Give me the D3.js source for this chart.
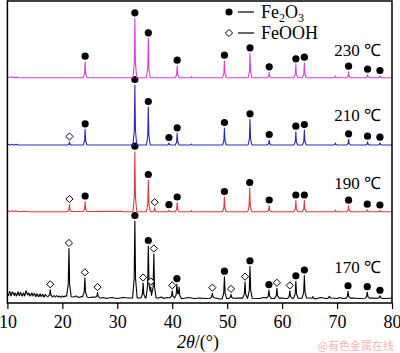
<!DOCTYPE html>
<html>
<head>
<meta charset="utf-8">
<script src="https://cdn.jsdelivr.net/npm/d3@7"></script>
<style>
  body { margin: 0; background: #fff; }
  svg { display: block; font-family: "Liberation Serif", "Times New Roman", serif; }
</style>
</head>
<body>
<div id="xrd"></div>
<script>
// Series names (bottom to top)
var temps = ["170 ℃", "190 ℃", "210 ℃", "230 ℃"];
var xTicks = [10, 20, 30, 40, 50, 60, 70, 80];
var phases = ["Fe2O3", "FeOOH"];

// peaks: [2theta, height above background, phase mark: H = Fe2O3, G = FeOOH]
var peaks170 = [
  [17.8, 7, "G"], [21.2, 48, "G"], [24.1, 19, "G"], [26.4, 5, "G"],
  [33.2, 77, "H"], [34.7, 15, "G"], [35.65, 52, "H"], [36.1, 11, "G"],
  [36.65, 44, "G"], [40.0, 7, "G"], [40.85, 14, "H"], [41.25, 11, ""],
  [47.3, 5, "G"], [49.5, 22, "H"], [50.7, 4, "G"], [53.25, 16, "G"],
  [54.15, 32, "H"], [57.6, 8, "H"], [59.05, 10, "G"], [61.4, 7.5, "G"],
  [62.5, 17, "H"], [64.05, 22.5, "H"], [65.6, 2, ""], [68.6, 2, ""],
  [72.0, 7, "H"], [75.5, 6, "H"], [77.8, 2.5, "H"]
];
var peaks190 = [
  [21.3, 7, "G"], [24.15, 10, "H"], [33.2, 60, "H"], [35.65, 31.7, "H"],
  [36.8, 4, "G"], [39.4, 1.5, "H"], [40.9, 9.2, "H"], [43.5, 1, ""],
  [49.5, 14.7, "H"], [54.1, 23.7, "H"], [57.65, 6.2, "H"], [62.5, 11.2, "H"],
  [64.05, 11.2, "H"], [69.7, 1.5, ""], [72.1, 6, "H"], [75.5, 2, "H"],
  [77.8, 1.2, "H"]
];
var peaks210 = [
  [21.3, 3, "G"], [24.15, 15.7, "H"], [33.2, 60, "H"], [35.65, 38, "H"],
  [39.4, 2, "H"], [40.9, 11.7, "H"], [43.5, 1, ""], [49.5, 17, "H"],
  [54.15, 25.7, "H"], [57.65, 5, "H"], [62.5, 13.3, "H"], [64.05, 15, "H"],
  [69.7, 2, ""], [72.1, 5.7, "H"], [75.55, 3.3, "H"], [77.8, 2.3, "H"]
];
var peaks230 = [
  [24.15, 16, "H"], [33.2, 59.4, "H"], [35.65, 39.4, "H"], [40.9, 12, "H"],
  [43.5, 1, ""], [49.5, 17, "H"], [54.15, 24.4, "H"], [57.65, 5.4, "H"],
  [62.5, 13.4, "H"], [64.05, 15, "H"], [69.7, 1.7, ""], [72.1, 6, "H"],
  [75.55, 3, "H"], [77.8, 1.7, "H"]
];

// background levels: [2theta, level]
var bg170 = [
  [10, 10], [10.12, 7.5], [10.25, 8], [10.37, 11.5], [10.5, 11], [10.62, 7], [10.75, 8.5],
  [10.87, 11], [11, 10.5], [11.12, 8.5], [11.25, 7.5], [11.37, 10], [11.5, 9.5],
  [11.62, 7], [11.75, 8], [11.87, 10.5], [12, 11], [12.12, 7.5], [12.25, 8],
  [12.37, 10.5], [12.5, 9.5], [12.62, 7.5], [12.75, 7], [12.87, 9.5], [13, 10],
  [13.12, 7], [13.25, 8.5], [13.37, 12], [13.5, 11.5], [13.62, 8.5], [13.75, 8],
  [13.87, 10], [14, 9], [14.12, 7], [14.25, 7.5], [14.37, 9.5], [14.5, 10],
  [14.62, 7], [14.75, 8], [14.87, 9.5], [15, 9], [15.12, 6.5], [15.25, 7],
  [15.37, 9], [15.5, 8.5], [15.62, 6.5], [15.75, 6.5], [15.87, 8.5], [16, 9],
  [16.12, 6.5], [16.25, 7], [16.37, 8.5], [16.5, 8], [16.62, 6], [16.75, 6.5],
  [16.87, 8.5], [17, 8], [17.25, 6.5],
  [18.25, 6], [18.5, 7.5], [18.75, 6], [19, 7.5], [19.25, 6], [19.5, 7],
  [19.75, 5.5], [20, 7], [20.25, 6], [20.5, 7], [22, 6], [22.5, 7],
  [23, 5.5], [23.5, 6.5], [25, 5.5], [25.5, 6], [27, 5], [27.5, 5.5],
  [28, 4.5], [29, 5.5], [30, 4.5], [31, 5.5], [32, 5], [37.5, 5],
  [38, 6], [38.5, 4.5], [39, 5.5], [42, 4.5], [43, 5.5], [44, 4.5],
  [45, 5], [46, 4.5], [48, 5], [48.5, 4], [52, 5], [56, 4.5], [56.5, 5.5],
  [58.3, 4.5], [60, 5], [60.5, 4.5], [65, 5], [66, 4], [67, 5.5], [68, 4.5],
  [69, 5], [70, 4.5], [70.5, 5.5], [71, 4.5], [73, 5], [74, 4.5],
  [76.5, 5], [79, 4.5], [80, 5]
];
var bg190 = [[10, 1.2], [10.4, 0], [10.8, 1], [11.2, 0.2], [11.6, 0.8], [12, 0], [13, 0.5], [14, 0], [30.7, 0.3], [31.2, 0], [80, 0]];
var bg210 = [[10, 1], [10.4, 0], [10.8, 0.8], [11.2, 0], [11.6, 0.6], [12, 0], [80, 0]];
var bg230 = [[10, 1.2], [10.4, 0.2], [10.8, 1], [11.2, 0], [11.6, 0.6], [12, 0], [80, 0]];

// Layout
var width = 400, height = 353;
var x = d3.scaleLinear().domain([10, 80]).range([7.4, 392]);
var y = d3.scaleLinear().domain([0, 302]).range([303, 1]);

var series = [
  { name: temps[0], peaks: peaks170, bg: bg170, offset: 0, hw: 0.42, color: "#000000", labelY: 272.5 },
  { name: temps[1], peaks: peaks190, bg: bg190, offset: 91.3, hw: 0.34, color: "#e23a3a", labelY: 189 },
  { name: temps[2], peaks: peaks210, bg: bg210, offset: 158, hw: 0.34, color: "#2a2ab8", labelY: 121 },
  { name: temps[3], peaks: peaks230, bg: bg230, offset: 225.3, hw: 0.34, color: "#dd3fdd", labelY: 55.5 }
];

function peakShape(dx, h, hw) {
  var a = Math.abs(dx);
  if (a >= hw) return 0;
  var k = hw * 0.3;
  if (a <= k) return h * (1 - 0.75 * a / k);
  return h * 0.25 * (hw - a) / (hw - k);
}

function bgScaleOf(s) {
  return d3.scaleLinear().domain(s.bg.map(function(d) { return d[0]; }))
    .range(s.bg.map(function(d) { return d[1]; }));
}

function profile(s) {
  var bgScale = bgScaleOf(s);
  var xs = new Set(s.bg.map(function(d) { return d[0]; }));
  s.peaks.forEach(function(p) {
    [-1, -0.3, 0, 0.3, 1].forEach(function(f) { xs.add(+(p[0] + f * s.hw).toFixed(4)); });
  });
  return Array.from(xs).filter(function(v) { return v >= 10 && v <= 80; })
    .sort(function(a, b) { return a - b; })
    .map(function(v) {
      return [v, s.offset + bgScale(v) + d3.sum(s.peaks, function(p) { return peakShape(v - p[0], p[1], s.hw); })];
    });
}

var svg = d3.select("#xrd").append("svg")
  .attr("width", width)
  .attr("height", height);

var line = d3.line()
  .x(function(d) { return x(d[0]); })
  .y(function(d) { return y(d[1]); });

var diamond = "M0,-3.6L3.6,0L0,3.6L-3.6,0Z";

series.forEach(function(s) {
  svg.append("path")
    .attr("d", line(profile(s)))
    .attr("fill", "none")
    .attr("stroke", s.color)
    .attr("stroke-width", 1.1)
    .attr("stroke-linejoin", "round");

  var bgScale = bgScaleOf(s);
  s.peaks.filter(function(p) { return p[2] !== ""; }).forEach(function(p) {
    var px = x(p[0]);
    var py = y(s.offset + bgScale(p[0]) + p[1]) - 5.5;
    if (p[2] === "H") {
      svg.append("circle").attr("cx", px).attr("cy", py).attr("r", 3.6).attr("fill", "#000");
    } else {
      svg.append("path").attr("d", diamond).attr("transform", "translate(" + px + "," + py + ")")
        .attr("fill", "#fff").attr("stroke", "#000").attr("stroke-width", 1);
    }
  });

  svg.append("text")
    .attr("x", 381)
    .attr("y", s.labelY)
    .attr("text-anchor", "end")
    .attr("font-size", 17)
    .text(s.name);
});

// Frame
svg.append("rect")
  .attr("x", x(10)).attr("y", y(302))
  .attr("width", x(80) - x(10)).attr("height", y(0) - y(302))
  .attr("fill", "none").attr("stroke", "#000").attr("stroke-width", 1.5);

// X axis
var xAxis = d3.axisBottom(x).tickValues(xTicks).tickSize(6).tickSizeOuter(0).tickPadding(6);
var gx = svg.append("g").attr("transform", "translate(0," + y(0) + ")").call(xAxis);
gx.select(".domain").remove();
gx.selectAll("line").attr("stroke", "#000").attr("stroke-width", 1.2);
gx.selectAll("text")
  .attr("font-family", "Liberation Serif, serif")
  .attr("font-size", 18)
  .attr("fill", "#000");

var xl = svg.append("text")
  .attr("x", 198).attr("y", 348)
  .attr("text-anchor", "middle")
  .attr("font-size", 18);
xl.append("tspan").attr("font-style", "italic").text("2θ");
xl.append("tspan").text("/(°)");

// Legend
var legend = [
  { label: phases[0], mark: "H", y: 12 },
  { label: phases[1], mark: "G", y: 33 }
];
legend.forEach(function(l) {
  if (l.mark === "H") {
    svg.append("circle").attr("cx", 229).attr("cy", l.y).attr("r", 3.6).attr("fill", "#000");
  } else {
    svg.append("path").attr("d", diamond).attr("transform", "translate(229," + l.y + ")")
      .attr("fill", "#fff").attr("stroke", "#000").attr("stroke-width", 1);
  }
  svg.append("line").attr("x1", 238).attr("x2", 254).attr("y1", l.y).attr("y2", l.y)
    .attr("stroke", "#000").attr("stroke-width", 1.2);
  var t = svg.append("text").attr("x", 261).attr("y", l.y + 6).attr("font-size", 18);
  if (l.label === "Fe2O3") {
    t.append("tspan").text("Fe");
    t.append("tspan").attr("font-size", 12).attr("baseline-shift", "-4").text("2");
    t.append("tspan").text("O");
    t.append("tspan").attr("font-size", 12).attr("baseline-shift", "-4").text("3");
  } else {
    t.text(l.label);
  }
});

// Watermark
svg.append("text")
  .attr("x", 394).attr("y", 350)
  .attr("text-anchor", "end")
  .attr("font-family", "Noto Sans CJK SC, sans-serif")
  .attr("font-size", 11)
  .attr("fill", "#f2b6b6")
  .text("@有色金属在线");
</script>
</body>
</html>
